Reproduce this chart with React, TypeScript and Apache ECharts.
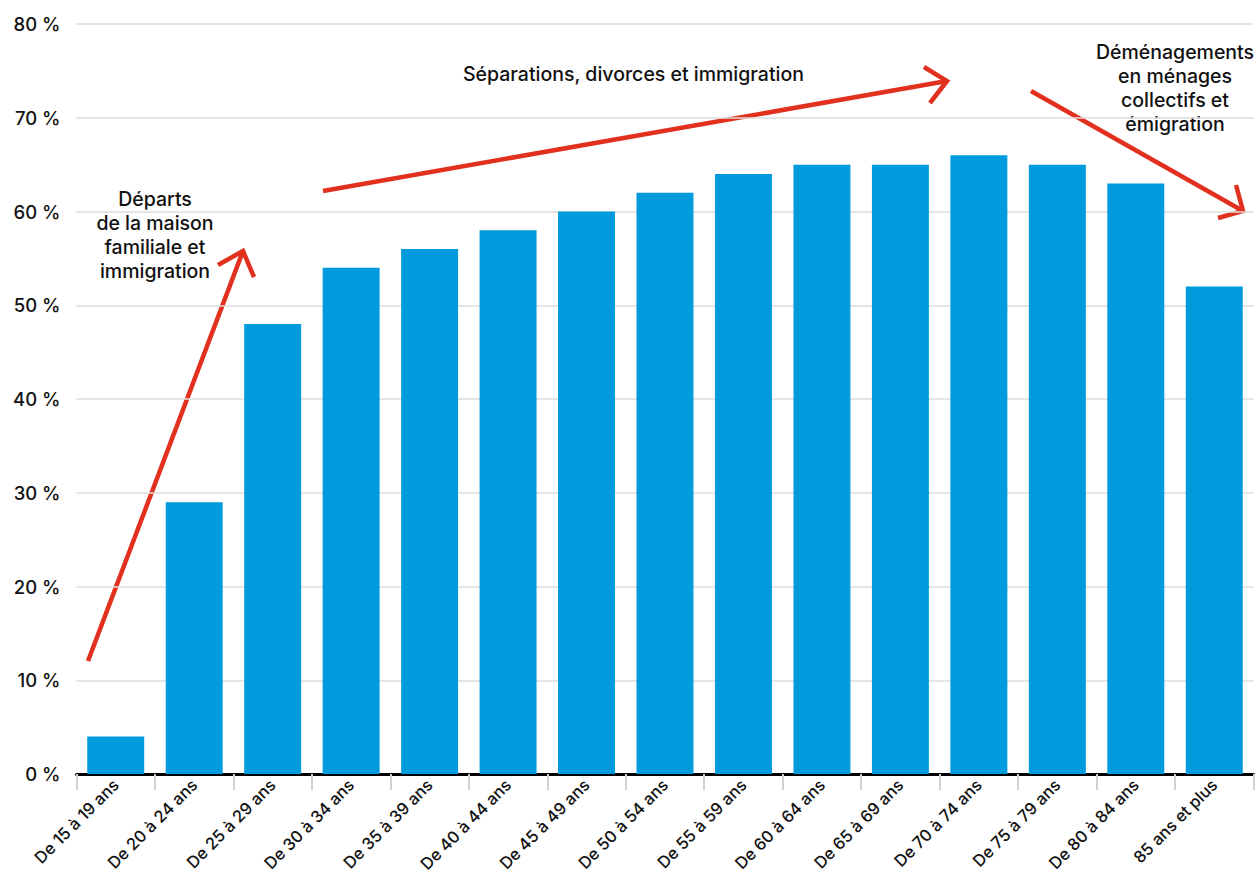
import React, { useEffect, useRef } from "react";
import * as echarts from "echarts";

const categories = [
  "De 15 à 19 ans", "De 20 à 24 ans", "De 25 à 29 ans", "De 30 à 34 ans",
  "De 35 à 39 ans", "De 40 à 44 ans", "De 45 à 49 ans", "De 50 à 54 ans",
  "De 55 à 59 ans", "De 60 à 64 ans", "De 65 à 69 ans", "De 70 à 74 ans",
  "De 75 à 79 ans", "De 80 à 84 ans", "85 ans et plus",
];
const values = [4, 29, 48, 54, 56, 58, 60, 62, 64, 65, 65, 66, 65, 63, 52];
const yTicks = [0, 10, 20, 30, 40, 50, 60, 70, 80];
const notes = {
  departs: "Départs\nde la maison\nfamiliale et\nimmigration",
  separations: "Séparations, divorces et immigration",
  demenagements: "Déménagements\nen ménages\ncollectifs et\némigration",
};

const FONT = "Inter, 'Liberation Sans', Arial, sans-serif";
const RED = "#E2301F";

function arrow(shaft: number[][], w1: number[], tip: number[], w2: number[]) {
  return [
    { type: "polyline", shape: { points: shaft }, style: { stroke: RED, lineWidth: 4.5, fill: null } },
    { type: "polyline", shape: { points: [w1, tip, w2] }, style: { stroke: RED, lineWidth: 4.5, fill: null, lineJoin: "miter" } },
  ];
}

export default function App() {
  const ref = useRef<HTMLDivElement>(null);
  useEffect(() => {
    const chart = echarts.init(ref.current!, null, { renderer: "svg" });
    chart.setOption({
      animation: false,
      grid: { left: 76.5, right: 5.5, top: 24, bottom: 99, containLabel: false, outerBoundsMode: "none" },
      xAxis: {
        type: "category",
        data: categories,
        axisLine: { lineStyle: { color: "#000", width: 3 } },
        axisTick: { show: true, length: 16, lineStyle: { color: "#d0d0d0", width: 2 } },
        axisLabel: { rotate: 45, fontSize: 16.5, fontWeight: 500, color: "#111", fontFamily: FONT, margin: 8, interval: 0 },
      },
      yAxis: {
        type: "value",
        min: yTicks[0],
        max: yTicks[yTicks.length - 1],
        interval: 10,
        axisLine: { show: false },
        axisTick: { show: false },
        axisLabel: { formatter: "{value} %", fontSize: 18.5, fontWeight: 500, color: "#111", fontFamily: FONT, margin: 16 },
        splitLine: { lineStyle: { color: "#dcdcdc", width: 1.5 } },
      },
      series: [
        {
          type: "bar",
          data: values,
          barWidth: "72.6%",
          itemStyle: { color: "#009BDD" },
        },
      ],
      graphic: [
        ...arrow([[88, 661], [243, 251]], [218, 265], [243, 251], [254, 277]),
        ...arrow([[323, 191], [947, 81]], [924, 67], [947, 81], [930, 103]),
        ...arrow([[1031, 91], [1243, 211]], [1218, 218], [1243, 211], [1236, 185]),
        {
          type: "text", x: 155, y: 187,
          style: { text: notes.departs, font: `500 19.5px ${FONT}`, fill: "#111", align: "center", lineHeight: 24 },
        },
        {
          type: "text", x: 463, y: 62,
          style: { text: notes.separations, font: `500 19.5px ${FONT}`, fill: "#111", align: "left", lineHeight: 24 },
        },
        {
          type: "text", x: 1175, y: 40,
          style: { text: notes.demenagements, font: `500 19.5px ${FONT}`, fill: "#111", align: "center", lineHeight: 24 },
        },
      ],
    });
    return () => chart.dispose();
  }, []);
  return <div ref={ref} style={{ position: "fixed", left: 0, top: 0, width: 1259, height: 873, background: "#fff" }} />;
}
